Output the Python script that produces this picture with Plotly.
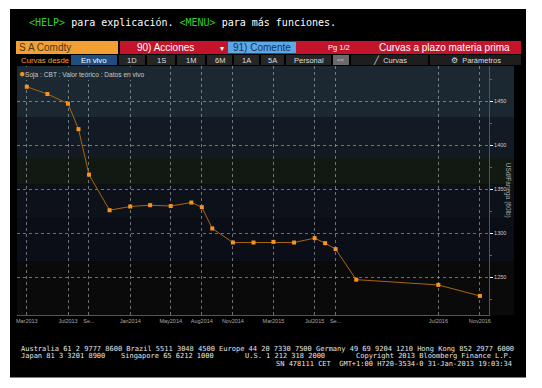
import plotly.graph_objects as go

# ---------------- data ----------------
contract_dates = ["2013-03-14", "2013-05-14", "2013-07-14", "2013-08-14", "2013-09-14",
                  "2013-11-14", "2014-01-14", "2014-03-14", "2014-05-14", "2014-07-14",
                  "2014-08-14", "2014-09-14", "2014-11-14", "2015-01-14", "2015-03-14",
                  "2015-05-14", "2015-07-14", "2015-08-14", "2015-09-14", "2015-11-14",
                  "2016-07-14", "2016-11-14"]
prices = [1466.5, 1458.25, 1447.25, 1418.25, 1366.5,
          1326.0, 1330.25, 1331.75, 1330.75, 1334.75,
          1329.5, 1305.25, 1289.25, 1289.25, 1290.0,
          1289.25, 1294.25, 1288.5, 1281.75, 1247.0,
          1241.0, 1228.5]
x_tick_dates = ["2013-03-14", "2013-07-14", "2013-09-14", "2014-01-14", "2014-05-14",
                "2014-08-14", "2014-11-14", "2015-03-14", "2015-07-14", "2015-09-14",
                "2016-07-14", "2016-11-14"]
x_tick_labels = ["Mar2013", "Jul2013", "Se...", "Jan2014", "May2014", "Aug2014",
                 "Nov2014", "Mar2015", "Jul2015", "Se...", "Jul2016", "Nov2016"]
y_tick_vals = [1250, 1300, 1350, 1400, 1450]
series_name = "Soja : CBT : Valor teórico : Datos en vivo"
y_title = "USd/Fanega (60lb)"
toolbar_buttons = ["1D", "1S", "1M", "6M", "1A", "5A", "Personal"]

# ---------------- geometry helpers (pixels -> paper) ----------------
# the page body adds an 8px margin, so the figure is 8px smaller and all
# reference pixel positions are offset by that amount
OFF = 8
W, H = 542 - OFF, 388 - OFF
L, R, T, B = 17, 489, 66, 315.3


def fx(x):
    return (x - L) / (R - L)


def fy(y):
    return (B - y) / (B - T)


shapes = []
annotations = []


def rect(x0, y0, x1, y1, color, layer="below"):
    shapes.append(dict(type="rect", xref="paper", yref="paper",
                       x0=fx(x0), x1=fx(x1), y0=fy(y1), y1=fy(y0),
                       fillcolor=color, line=dict(width=0), layer=layer))


def text(x, y, s, size, color, family="Liberation Sans", anchor="left", angle=0, bg=None):
    d = dict(xref="paper", yref="paper", x=fx(x), y=fy(y), text=s, showarrow=False,
             xanchor=anchor, yanchor="middle", textangle=angle,
             font=dict(size=size, color=color, family=family),
             borderpad=0)
    if bg:
        d["bgcolor"] = bg
    annotations.append(d)


# black panel
rect(10, 9, 526, 378, "#000000")
# plot background bands
bands = [(66, 117, "#1b2831"), (117, 158, "#121a23"), (158, 185, "#121912"),
         (185, 219, "#0d121a"), (219, 262, "#0b0d17"), (262, 315.3, "#0a0a0b")]
for y0, y1, c in bands:
    rect(L, y0, 514, y1, c)

# header line
mono = "DejaVu Sans Mono"
text(28, 22, "<span style='color:#2fd12f'>&lt;HELP&gt;</span> para explicación. "
     "<span style='color:#2fd12f'>&lt;MENU&gt;</span> para más funciones.", 10, "#ffffff", mono)

# row 2
rect(16, 41, 118, 54, "#f2a033")
text(18, 47.5, "S A Comdty", 10, "#4a3a20")
rect(120, 41, 521, 54, "#c3142b")
text(165, 47.5, "90) Acciones", 10, "#ffffff", anchor="center")
text(222, 48, "▾", 8, "#ffffff", anchor="center")
rect(228, 42, 296, 53, "#5da9e6")
text(262, 47.5, "91) Comente", 10, "#16305a", anchor="center")
text(339, 47.5, "Pg 1/2", 7.5, "#ffffff", anchor="center")
text(444, 47.5, "Curvas a plazo materia prima", 10, "#ffffff", anchor="center")

# row 3 toolbar
text(20, 60, "Curvas desde", 7.8, "#f2a033")
rect(71, 55, 117, 65, "#1f4f80")
text(94, 60, "En vivo", 7.8, "#ffffff", anchor="center")
btn_edges = [(119, 145), (147, 175), (177, 205), (207, 232), (234, 259), (261, 284), (286, 331)]
for (a, b), lab in zip(btn_edges, toolbar_buttons):
    rect(a, 55, b, 65, "#262626")
    text((a + b) / 2, 60, lab, 7.5, "#dddddd", anchor="center")
rect(333, 55, 349, 65, "#6a6a6a")
text(341, 60, "&lt;&lt;", 6, "#dddddd", anchor="center")
rect(351, 55, 428, 65, "#1e1e1e")
text(390, 60, "╱  Curvas", 7.5, "#dddddd", anchor="center")
rect(430, 55, 521, 65, "#1e1e1e")
text(476, 60, "⚙  Parámetros", 7.5, "#dddddd", anchor="center")

# legend box
rect(17, 67, 131, 80, "#1c2a33", layer="above")
text(18, 73.5, "<span style='color:#f7941d;font-size:10px'>●</span>" + series_name, 6.6, "#c8c8c8")

# y axis title
text(508, 190, y_title, 6.5, "#aaaaaa", anchor="center", angle=90)

# footer
fs = 7
fc = "#e6e6e6"
text(20, 349, "Australia 61 2 9777 8600 Brazil 5511 3048 4500 Europe 44 20 7330 7500 "
     "Germany 49 69 9204 1210 Hong Kong 852 2977 6000", fs, fc, mono)
text(20, 356.5, "Japan 81 3 3201 8900", fs, fc, mono)
text(120, 356.5, "Singapore 65 6212 1000", fs, fc, mono)
text(244, 356.5, "U.S. 1 212 318 2000", fs, fc, mono)
text(513, 356.5, "Copyright 2013 Bloomberg Finance L.P.", fs, fc, mono, anchor="right")
text(513, 364, "SN 478111 CET  GMT+1:00 H720-3534-0 31-Jan-2013 19:03:34", fs, fc, mono,
     anchor="right")

fig = go.Figure()
fig.add_trace(go.Scatter(
    x=contract_dates, y=prices, mode="lines+markers", name=series_name,
    line=dict(color="#a8650f", width=1),
    marker=dict(symbol="square", size=4, color="#f7941d"),
    showlegend=False, hoverinfo="x+y"))

fig.update_layout(
    width=W, height=H,
    margin=dict(l=L - OFF, r=W - (R - OFF), t=T - OFF, b=H - (B - OFF), pad=0),
    paper_bgcolor="#ffffff",
    plot_bgcolor="rgba(0,0,0,0)",
    shapes=shapes, annotations=annotations,
    showlegend=False,
    xaxis=dict(type="date", range=["2013-02-13", "2016-12-11"],
               tickvals=x_tick_dates, ticktext=x_tick_labels,
               tickfont=dict(size=5.5, color="#aaaaaa", family="Liberation Sans"),
               showgrid=True, gridcolor="rgba(190,195,200,0.55)", griddash="dot", gridwidth=1,
               showline=True, linecolor="#555555", linewidth=1,
               ticks="", zeroline=False, fixedrange=True),
    yaxis=dict(side="right", range=[1206.8, 1490.1], tickvals=y_tick_vals,
               tickfont=dict(size=5.5, color="#cccccc", family="Liberation Sans"),
               showgrid=True, gridcolor="rgba(190,195,200,0.55)", griddash="dot", gridwidth=1,
               showline=True, linecolor="#555555", linewidth=1,
               ticks="outside", ticklen=3, tickcolor="#ffffff", tickwidth=1,
               minor=dict(dtick=25, tick0=1200, ticks="outside", ticklen=2, tickcolor="#666666",
                          showgrid=False),
               zeroline=False, fixedrange=True),
)

fig.write_html("out.html")
